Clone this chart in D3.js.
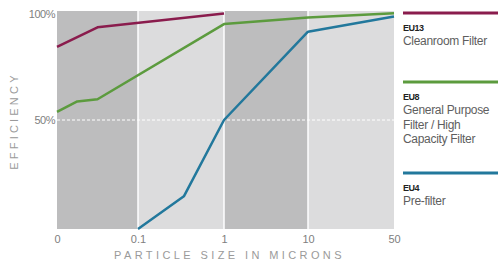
<!DOCTYPE html>
<html>
<head>
<meta charset="utf-8">
<script src="https://d3js.org/d3.v7.min.js"></script>
<style>
body, html {
    margin: 0;
    padding: 0;
    background: #fff;
    font-family: "Liberation Sans", Arial, sans-serif;
}
</style>
</head>
<body>
<div id="chart"></div>
<script>

// tick positions on the x axis (microns)
var xTicks = [0, 0.1, 1, 10, 50];
var yTicks = [50, 100];

// series: particle size (microns) -> efficiency (%)
var eu13Size = [0, 0.05, 1];
var eu13Eff  = [83.5, 92.5, 98.8];

var eu8Size = [0, 0.025, 0.05, 1, 10, 50];
var eu8Eff  = [53.7, 58.5, 59.5, 94, 97, 99];

var eu4Size = [0.1, 0.58, 1, 10, 50];
var eu4Eff  = [0, 15, 50, 90.5, 97.5];

var seriesNames  = ["EU13", "EU8", "EU4"];
var seriesDescs  = [["Cleanroom Filter"], ["General Purpose", "Filter / High", "Capacity Filter"], ["Pre-filter"]];
var seriesColors = ["#8a1c4d", "#5c9b3e", "#22789c"];

var width = 498, height = 264;
var pLeft = 57, pRight = 394, pTop = 11, pBottom = 229;

var svg = d3.select('#chart').append('svg')
    .attr('width', width)
    .attr('height', height);

// piecewise scale, every decade gets the same width
var x = d3.scaleLinear()
    .domain(xTicks)
    .range([57, 138, 224, 308, 394]);

var y = d3.scaleLinear()
    .domain([0, 100])
    .range([pBottom, pTop]);

// alternating background bands
for (var i = 0; i < xTicks.length - 1; i++) {
  svg.append('rect')
    .attr('x', x(xTicks[i]))
    .attr('y', pTop)
    .attr('width', x(xTicks[i + 1]) - x(xTicks[i]))
    .attr('height', pBottom - pTop)
    .attr('fill', i % 2 == 0 ? '#bdbdbe' : '#dcdcdd');
}
// white separators
xTicks.slice(1, -1).forEach(function (t) {
  svg.append('line')
    .attr('x1', x(t)).attr('x2', x(t))
    .attr('y1', pTop).attr('y2', pBottom)
    .attr('stroke', '#fff').attr('stroke-width', 1.5);
});

// 50% dashed line
svg.append('line')
  .attr('x1', pLeft).attr('x2', pRight)
  .attr('y1', y(50)).attr('y2', y(50))
  .attr('stroke', '#fff')
  .attr('stroke-width', 1)
  .attr('stroke-dasharray', '3,2');

// axes
var xAxis = svg.append('g')
  .attr('transform', 'translate(0,' + pBottom + ')')
  .call(d3.axisBottom(x).tickValues(xTicks).tickSize(0).tickPadding(6).tickFormat(d3.format('')));
xAxis.select('.domain').remove();
xAxis.selectAll('text')
  .attr('fill', '#808080')
  .style('font-size', '11px')
  .style('font-family', '"Liberation Sans", Arial, sans-serif');

var yAxis = svg.append('g')
  .attr('transform', 'translate(' + pLeft + ',0)')
  .call(d3.axisLeft(y).tickValues(yTicks).tickSize(0).tickPadding(2).tickFormat(function (d) { return d + '%'; }));
yAxis.select('.domain').remove();
yAxis.selectAll('text')
  .attr('fill', '#808080')
  .style('font-size', '11px')
  .style('letter-spacing', '-0.5px')
  .style('font-family', '"Liberation Sans", Arial, sans-serif');
yAxis.selectAll('.tick').filter(function (d) { return d == 100; })
  .select('text').attr('dy', '0.6em');

// axis titles
svg.append('text')
  .attr('x', (pLeft + pRight) / 2 + 4)
  .attr('y', 259)
  .attr('text-anchor', 'middle')
  .attr('fill', '#9a9a9a')
  .style('font-size', '11px')
  .style('letter-spacing', '3.4px')
  .text('PARTICLE SIZE IN MICRONS');

svg.append('text')
  .attr('transform', 'translate(18,121) rotate(-90)')
  .attr('text-anchor', 'middle')
  .attr('fill', '#9a9a9a')
  .style('font-size', '11px')
  .style('letter-spacing', '3.2px')
  .text('EFFICIENCY');

// lines
var line = d3.line()
  .x(function (d) { return x(d[0]); })
  .y(function (d) { return y(d[1]); });

var seriesData = [
  d3.zip(eu13Size, eu13Eff),
  d3.zip(eu8Size, eu8Eff),
  d3.zip(eu4Size, eu4Eff)
];

seriesData.forEach(function (data, i) {
  svg.append('path')
    .datum(data)
    .attr('fill', 'none')
    .attr('stroke', seriesColors[i])
    .attr('stroke-width', 2.5)
    .attr('stroke-linejoin', 'round')
    .attr('d', line);
});

// legend
var legendY = [13, 82, 173];
seriesNames.forEach(function (name, i) {
  var g = svg.append('g').attr('transform', 'translate(403,' + legendY[i] + ')');
  g.append('line')
    .attr('x1', 0).attr('x2', 95)
    .attr('stroke', seriesColors[i])
    .attr('stroke-width', 3);
  g.append('text')
    .attr('x', 0).attr('y', 18)
    .attr('fill', '#222')
    .style('font-size', '9px')
    .style('font-weight', 'bold')
    .style('letter-spacing', '-0.5px')
    .text(name);
  seriesDescs[i].forEach(function (s, j) {
    g.append('text')
      .attr('x', 0).attr('y', 32 + j * 14.5)
      .attr('fill', '#5e5e5e')
      .style('font-size', '12px')
      .style('letter-spacing', '-0.3px')
      .text(s);
  });
});

</script>
</body>
</html>
